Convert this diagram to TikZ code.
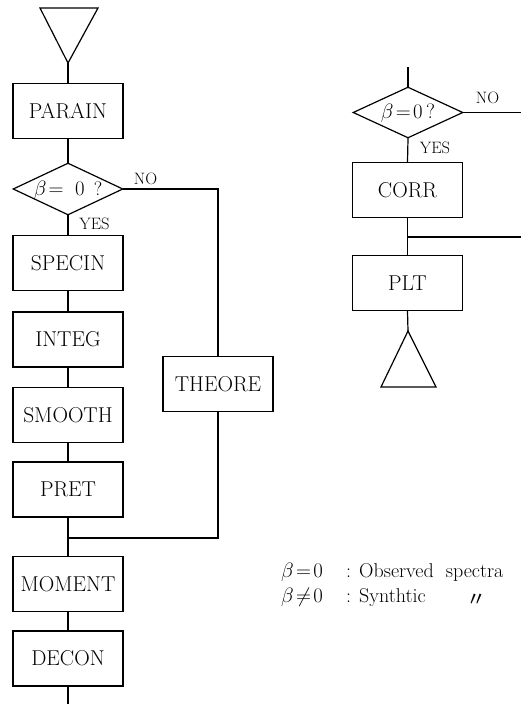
\documentclass[tikz,border=0pt]{standalone}
\usepackage{fontspec}
\usetikzlibrary{shapes.geometric}
\newfontfamily\cjk{Noto Sans CJK JP}
\tikzset{
  flow/.style={line width=1.2pt, line cap=rect},
  procbox/.style={draw, line width=1.2pt, minimum width=110pt, minimum height=55pt,
    inner sep=0pt, font=\fontsize{21.5}{21.5}\selectfont},
  decision/.style={draw, diamond, line width=1.2pt, minimum width=110pt,
    minimum height=52pt, inner sep=0pt},
  dtext/.style={font=\fontsize{19.5}{19.5}\selectfont, inner sep=0pt},
  branch/.style={font=\fontsize{16.5}{16.5}\selectfont, inner sep=0pt},
  legend/.style={font=\fontsize{20}{20}\selectfont, inner sep=0pt, anchor=base west},
}
\begin{document}
\begin{tikzpicture}[x=1pt, y=-1pt]
\useasboundingbox (0,0) rectangle (520,704);

% ---- main column ----
\coordinate (startapex) at (68,63);
\draw[line width=1.2pt, line join=miter] (40,8) -- (98,8) -- (startapex) -- cycle;

\node[procbox] (parain) at (68,111) {PARAIN};
\node[decision] (d1) at (68,189) {};
\node[dtext] (d1t) at (68,190) {$\beta\!=\;0$ \,?};
\node[procbox] (specin) at (68,263) {SPECIN};
\node[procbox] (integ) at (68,339.5) {INTEG};
\node[procbox] (smooth) at (68,415) {SMOOTH};
\node[procbox] (pret) at (68,489.5) {PRET};
\node[procbox] (moment) at (68,584) {MOMENT};
\node[procbox] (decon) at (68,658.5) {DECON};
\node[procbox] (theore) at (218,384) {THEORE};

\coordinate (join1) at (68,538);
\coordinate (mainend) at (68,704);

\draw[flow] (startapex) -- (parain.north);
\draw[flow] (parain.south) -- (d1.north);
\draw[flow] (d1.south) -- (specin.north);
\draw[flow] (specin.south) -- (integ.north);
\draw[flow] (integ.south) -- (smooth.north);
\draw[flow] (smooth.south) -- (pret.north);
\draw[flow] (pret.south) -- (moment.north);
\draw[flow] (moment.south) -- (decon.north);
\draw[flow] (decon.south) -- (mainend);
\draw[flow] (d1.east) -| (theore.north);
\draw[flow] (theore.south) |- (join1);

\node[branch] (no1) at (145.5,179) {NO};
\node[branch] (yes1) at (94.5,224) {YES};

% ---- second column ----
\coordinate (topin) at (408,68);
\node[decision, minimum height=51pt] (d2) at (408,112.5) {};
\node[dtext] (d2t) at (408,113) {$\beta\!=\!0\,?$};
\node[procbox] (corr) at (407.5,190) {CORR};
\node[procbox] (plt) at (407.5,283) {PLT};
\coordinate (noout) at (520,112.5);
\coordinate (join2) at (408,237);
\coordinate (joinin) at (520,237);
\coordinate (endapex) at (408,331);

\draw[flow] (topin) -- (d2.north);
\draw[flow] (d2.east) -- (noout);
\draw[flow] (d2.south) -- (corr.north);
\draw[flow] (corr.south) -- (plt.north);
\draw[flow] (joinin) -- (join2);
\draw[flow] (plt.south) -- (endapex);
\draw[line width=1.2pt, line join=miter] (endapex) -- (436,387) -- (381,387) -- cycle;

\node[branch] (no2) at (487.5,98) {NO};
\node[branch] (yes2) at (435,148) {YES};

% ---- legend ----
\node[legend] (l1a) at (281,577) {$\beta\!=\!0$};
\node[legend] (l1b) at (346,577) {: Observed\ \ spectra};
\node[legend] (l2a) at (281,602) {$\beta\!\neq\!0$};
\node[legend] (l2b) at (346,602) {: Synthtic};
\node[legend] (l2c) at (466,606) {\cjk 〃};
\end{tikzpicture}
\end{document}
